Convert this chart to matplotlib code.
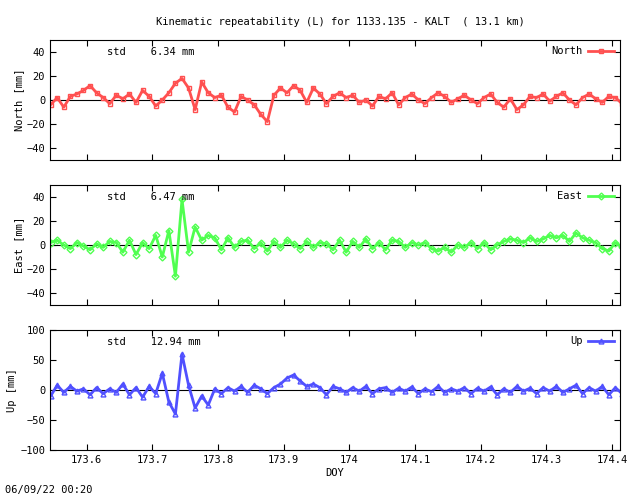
import numpy as np
import matplotlib
matplotlib.use("Agg")
import matplotlib.pyplot as plt

# DOY sample positions (step 0.01)
doy_start = 173.545
north = [-4, 2, -6, 3, 5, 8, 12, 6, 2, -3, 4, 1, 5, -2, 8, 3, -5, 0, 6, 14, 18, 10, -8, 15, 6, 2, 4,
         -6, -10, 3, 0, -4, -12, -18, 4, 10, 6, 12, 8, -2, 10, 5, -3, 3, 6, 2, 4, -2, 0, -5, 3, 1,
         6, -4, 2, 5, 0, -3, 2, 6, 3, -2, 1, 4, 0, -3, 2, 5, -2, -6, 1, -8, -4, 3, 2, 5, -1, 3, 6,
         0, -4, 2, 5, 1, -2, 3, 2, -3]
east = [2, 4, 0, -3, 2, -1, -4, 1, -2, 3, 2, -6, 4, -8, 2, -3, 8, -10, 12, -26, 38, -6, 15, 4,
        8, 6, -4, 6, -2, 3, 4, -3, 2, -5, 3, -2, 4, 1, -3, 3, -2, 2, 1, -4, 4, -6, 3, -2, 5, -3,
        2, -4, 4, 3, -2, 2, 0, 2, -3, -5, -2, -6, 0, -2, 2, -3, 2, -4, 0, 3, 5, 4, 2, 6, 3, 5, 8,
        6, 8, 3, 10, 6, 4, 2, -3, -5, 2, -2]
up = [-10, 8, -4, 6, -2, 2, -8, 4, -6, 2, -4, 10, -8, 4, -12, 6, -6, 28, -20, -40, 60, 8,
      -30, -10, -25, 2, -6, 4, -2, 6, -4, 8, 2, -6, 4, 10, 20, 25, 15, 6, 10, 4, -8, 6, 2, -4, 4,
      -2, 6, -6, 2, 4, -4, 3, -2, 5, -6, 2, -3, 6, -4, 2, -2, 4, -6, 3, -2, 5, -8, 2, -4, 6, -2,
      3, -6, 4, -2, 6, -4, 2, 8, -6, 4, -2, 6, -8, 4, -6]
std_vals = ["6.34", "6.47", "12.94"]
names = ["North", "East", "Up"]
colors = ["#ff5050", "#50ff50", "#5050ff"]
markers = ["s", "D", "^"]
ylims = [(-50, 50), (-50, 50), (-100, 100)]
yticks = [[-40, -20, 0, 20, 40], [-40, -20, 0, 20, 40], [-100, -50, 0, 50, 100]]
xticks = [173.6, 173.7, 173.8, 173.9, 174.0, 174.1, 174.2, 174.3, 174.4]
xtick_labels = ["173.6", "173.7", "173.8", "173.9", "174", "174.1", "174.2", "174.3", "174.4"]

plt.rcParams["font.family"] = "DejaVu Sans Mono"
plt.rcParams["font.size"] = 7.5

fig = plt.figure(figsize=(6.4, 4.96), dpi=100)
W, H = 640, 496
panels = [(40, 160), (185, 305), (330, 450)]
fig.text(340 / W, 1 - 22 / H, "Kinematic repeatability (L) for 1133.135 - KALT  ( 13.1 km)",
         ha="center", va="center")

for i, series in enumerate([north, east, up]):
    top, bot = panels[i]
    ax = fig.add_axes([50 / W, 1 - bot / H, 570 / W, (bot - top) / H])
    x = doy_start + 0.01 * np.arange(len(series))
    ax.axhline(0, color="black", lw=0.8)
    ax.plot(x, series, color=colors[i], lw=2, marker=markers[i], ms=3.5, mfc="none",
            mec=colors[i], label=names[i])
    ax.set_xlim(173.544, 174.412)
    ax.set_ylim(*ylims[i])
    ax.set_yticks(yticks[i])
    ax.set_xticks(xticks)
    ax.tick_params(direction="in", top=True, right=True, length=4)
    if i == 2:
        ax.set_xticklabels(xtick_labels)
        ax.set_xlabel("DOY", labelpad=2)
    else:
        ax.set_xticklabels([])
    ax.set_ylabel(names[i] + " [mm]", labelpad=2)
    ax.text(0.1, 0.9, "std    " + std_vals[i] + " mm", transform=ax.transAxes, va="center")
    ax.legend(loc="upper right", frameon=False, handlelength=2.5, fontsize=7.5,
              borderaxespad=0.2, handletextpad=0.5, markerfirst=False)

fig.text(5 / W, 1 - 490 / H, "06/09/22 00:20", va="center")
fig.savefig("out.png")
